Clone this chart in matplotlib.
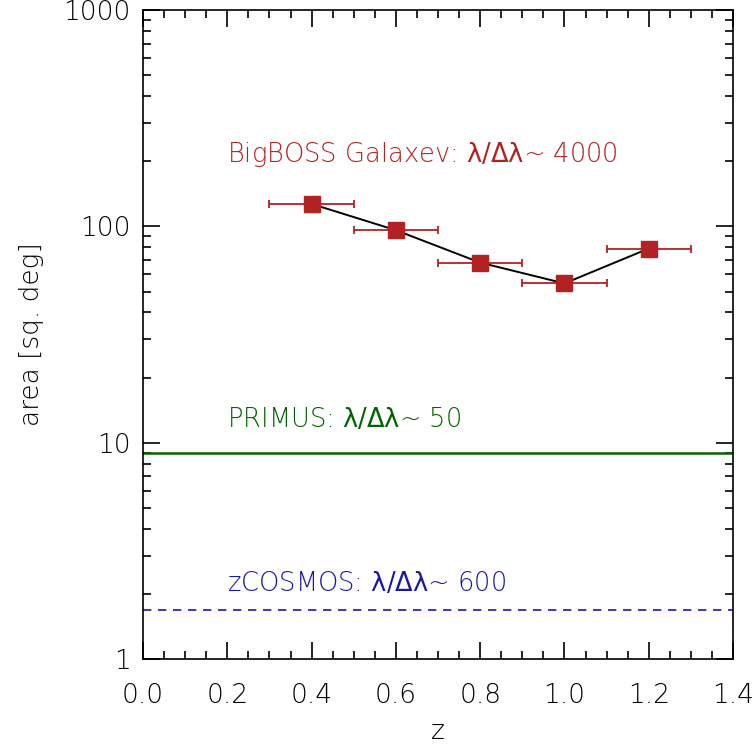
import numpy as np
import matplotlib
matplotlib.use('Agg')
import matplotlib.pyplot as plt
from matplotlib.ticker import MultipleLocator, LogLocator, FormatStrFormatter, NullFormatter

plt.rcParams['font.family'] = ['DejaVu Sans']
plt.rcParams['font.weight'] = 'light'
plt.rcParams['axes.labelweight'] = 'light'
plt.rcParams['mathtext.fontset'] = 'custom'
plt.rcParams['mathtext.rm'] = 'DejaVu Sans:regular'

# BigBOSS points
z = [0.4, 0.6, 0.8, 1.0, 1.2]
area = [127, 96, 68, 54.5, 79]
zerr = [0.1, 0.1, 0.1, 0.1, 0.1]

primus_area = 9.0
zcosmos_area = 1.68

red = '#b22222'
green = '#006400'
blue = '#1a1aa0'

fig = plt.figure(figsize=(7.56, 7.45), dpi=100)
ax = fig.add_axes([0.1892, 0.1154, 0.7804, 0.8711])

ax.errorbar(z, area, xerr=zerr, fmt='none', ecolor=red, elinewidth=1.3,
            capsize=2.6, capthick=1.3, zorder=2)
ax.plot(z, area, color='black', lw=1.4, zorder=3)
ax.plot(z, area, 's', color=red, markersize=12, zorder=4)

ax.axhline(primus_area, color=green, lw=1.8)
ax.axhline(zcosmos_area, color=blue, lw=1.2, ls=(0, (5, 4)))

lam = '$\\mathrm{\\lambda/\\Delta\\lambda}$~ '
ax.text(0.2, 198, 'BigBOSS Galaxev: ' + lam + '4000',
        color=red, fontsize=18.5, va='baseline', ha='left')
ax.text(0.2, 11.8, 'PRIMUS: ' + lam + '50',
        color=green, fontsize=18.5, va='baseline', ha='left')
ax.text(0.2, 2.06, 'zCOSMOS: ' + lam + '600',
        color=blue, fontsize=18.5, va='baseline', ha='left')

ax.set_yscale('log')
ax.set_xlim(0, 1.4)
ax.set_ylim(1, 1000)
ax.set_yticks([1, 10, 100, 1000])
ax.set_yticklabels(['1', '10', '100', '1000'])
ax.yaxis.set_minor_locator(LogLocator(base=10, subs=np.arange(2, 10)))
ax.yaxis.set_minor_formatter(NullFormatter())
ax.xaxis.set_major_locator(MultipleLocator(0.2))
ax.xaxis.set_minor_locator(MultipleLocator(0.05))
ax.xaxis.set_major_formatter(FormatStrFormatter('%.1f'))

ax.tick_params(which='both', direction='in', top=True, right=True,
               labelsize=19, width=1.2)
ax.tick_params(axis='x', pad=17)
ax.tick_params(axis='y', pad=9)
ax.tick_params(which='major', length=12)
ax.tick_params(which='minor', length=6)
for s in ax.spines.values():
    s.set_linewidth(1.2)

ax.set_xlabel('z', fontsize=19, labelpad=8)
ax.set_ylabel('area [sq. deg]', fontsize=19, labelpad=14)

fig.savefig('out.png', dpi=100)
